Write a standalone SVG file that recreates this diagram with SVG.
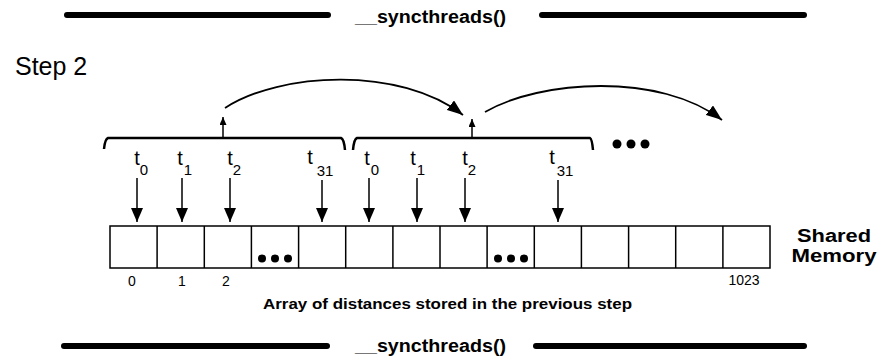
<svg xmlns="http://www.w3.org/2000/svg" width="885" height="361" viewBox="0 0 885 361">
  <style>
    .bar { stroke: #000; stroke-width: 6; stroke-linecap: round; fill: none; }
    .sync { font-family: "Liberation Sans", Arial, sans-serif; font-weight: bold; font-size: 18px; fill: #000; }
    .step { font-family: "Liberation Sans", Arial, sans-serif; font-size: 25px; fill: #000; }
    .bold { font-family: "Liberation Sans", Arial, sans-serif; font-weight: bold; fill: #000; }
    .tid { font-family: "Liberation Sans", Arial, sans-serif; font-size: 20px; fill: #000; text-anchor: middle; }
    .sub { font-family: "Liberation Sans", Arial, sans-serif; font-size: 15px; fill: #000; text-anchor: middle; }
    .idx { font-family: "Liberation Sans", Arial, sans-serif; font-size: 14px; fill: #000; text-anchor: middle; }
    .cell { fill: #fff; stroke: #000; stroke-width: 1.5; }
    .brace { fill: none; stroke: #000; stroke-width: 2.5; stroke-linejoin: round; }
    .down { stroke: #000; stroke-width: 1.5; fill: none; marker-end: url(#headBig); }
    .up { stroke: #000; stroke-width: 1.5; fill: none; marker-end: url(#headSmall); }
    .arc { stroke: #000; stroke-width: 1.8; fill: none; marker-end: url(#headArc); }
    .dot { fill: #000; }
  </style>
  <defs>
    <marker id="headBig" viewBox="0 0 14 12" refX="14" refY="6" markerWidth="14" markerHeight="12" markerUnits="userSpaceOnUse" orient="auto">
      <path d="M0,0 L14,6 L0,12 Z" fill="#000"/>
    </marker>
    <marker id="headSmall" viewBox="0 0 8 7" refX="8" refY="3.5" markerWidth="8" markerHeight="7" markerUnits="userSpaceOnUse" orient="auto">
      <path d="M0,0 L8,3.5 L0,7 Z" fill="#000"/>
    </marker>
    <marker id="headArc" viewBox="0 0 16 12" refX="16" refY="6" markerWidth="16" markerHeight="12" markerUnits="userSpaceOnUse" orient="auto">
      <path d="M0,0 L16,6 L0,12 Z" fill="#000"/>
    </marker>
  </defs>

  <!-- barrier before the step -->
  <g id="sync-top">
    <line class="bar" x1="67" y1="15" x2="328" y2="15"/>
    <line class="bar" x1="542" y1="15" x2="804" y2="15"/>
    <text class="sync" x="355" y="23" textLength="151" lengthAdjust="spacingAndGlyphs">__syncthreads()</text>
  </g>

  <g id="step-label">
    <text class="step" x="15" y="75">Step 2</text>
  </g>

  <!-- warp groups -->
  <g id="warp-0">
    <path class="brace" d="M104,149 Q105,139 108,138 L341,138 Q344,139 345,150"/>
  </g>
  <g id="warp-1">
    <path class="brace" d="M353,150 Q354,139 357,138 L590,138 Q592,139 593,150"/>
  </g>
  <g id="more-warps">
    <circle class="dot" cx="617" cy="144" r="4.5"/>
    <circle class="dot" cx="631" cy="144" r="4.5"/>
    <circle class="dot" cx="645" cy="144" r="4.5"/>
  </g>

  <!-- thread labels -->
  <g id="threads-0">
    <text class="tid" x="137" y="165">t</text><text class="sub" x="144" y="175">0</text>
    <text class="tid" x="180" y="165">t</text><text class="sub" x="188" y="175">1</text>
    <text class="tid" x="230" y="165">t</text><text class="sub" x="237" y="175">2</text>
    <text class="tid" x="310" y="164">t</text><text class="sub" x="325" y="176">31</text>
  </g>
  <g id="threads-1">
    <text class="tid" x="367" y="165">t</text><text class="sub" x="375" y="175">0</text>
    <text class="tid" x="413" y="165">t</text><text class="sub" x="421" y="175">1</text>
    <text class="tid" x="465" y="165">t</text><text class="sub" x="472" y="175">2</text>
    <text class="tid" x="552" y="164">t</text><text class="sub" x="565" y="176">31</text>
  </g>

  <!-- shared memory array -->
  <g id="shared-memory">
    <rect class="cell" x="110" y="226" width="660" height="42"/>
    <g stroke="#000" stroke-width="1.5">
      <line x1="157.1" y1="226" x2="157.1" y2="268"/>
      <line x1="204.3" y1="226" x2="204.3" y2="268"/>
      <line x1="251.4" y1="226" x2="251.4" y2="268"/>
      <line x1="298.6" y1="226" x2="298.6" y2="268"/>
      <line x1="345.7" y1="226" x2="345.7" y2="268"/>
      <line x1="392.9" y1="226" x2="392.9" y2="268"/>
      <line x1="440" y1="226" x2="440" y2="268"/>
      <line x1="487.1" y1="226" x2="487.1" y2="268"/>
      <line x1="534.3" y1="226" x2="534.3" y2="268"/>
      <line x1="581.4" y1="226" x2="581.4" y2="268"/>
      <line x1="628.6" y1="226" x2="628.6" y2="268"/>
      <line x1="675.7" y1="226" x2="675.7" y2="268"/>
      <line x1="722.9" y1="226" x2="722.9" y2="268"/>
    </g>
    <circle class="dot" cx="262" cy="258.5" r="4"/>
    <circle class="dot" cx="275" cy="258.5" r="4"/>
    <circle class="dot" cx="288" cy="258.5" r="4"/>
    <circle class="dot" cx="498" cy="258.5" r="4"/>
    <circle class="dot" cx="511" cy="258.5" r="4"/>
    <circle class="dot" cx="524" cy="258.5" r="4"/>
    <text class="idx" x="132" y="286">0</text>
    <text class="idx" x="182" y="286">1</text>
    <text class="idx" x="226" y="286">2</text>
    <text class="idx" x="744" y="285">1023</text>
    <text class="bold" font-size="18" x="834" y="242" text-anchor="middle" textLength="74" lengthAdjust="spacingAndGlyphs">Shared</text>
    <text class="bold" font-size="18" x="834" y="262" text-anchor="middle" textLength="85" lengthAdjust="spacingAndGlyphs">Memory</text>
    <text class="bold" font-size="15" x="263" y="309" textLength="369" lengthAdjust="spacingAndGlyphs">Array of distances stored in the previous step</text>
  </g>

  <!-- barrier after the step -->
  <g id="sync-bottom">
    <line class="bar" x1="64" y1="346" x2="327" y2="346"/>
    <line class="bar" x1="536" y1="346" x2="804" y2="346"/>
    <text class="sync" x="355" y="352" textLength="151" lengthAdjust="spacingAndGlyphs">__syncthreads()</text>
  </g>

  <!-- connectors -->
  <g id="connectors">
    <line class="down" x1="137" y1="178" x2="137" y2="222"/>
    <line class="down" x1="182" y1="178" x2="182" y2="222"/>
    <line class="down" x1="230" y1="178" x2="230" y2="222"/>
    <line class="down" x1="322" y1="180" x2="322" y2="222"/>
    <line class="down" x1="369" y1="178" x2="369" y2="222"/>
    <line class="down" x1="417" y1="178" x2="417" y2="222"/>
    <line class="down" x1="465" y1="178" x2="465" y2="222"/>
    <line class="down" x1="558" y1="180" x2="558" y2="222"/>
    <line class="up" x1="223" y1="137" x2="223" y2="117"/>
    <line class="up" x1="472" y1="137" x2="472" y2="119"/>
    <path class="arc" d="M225,108 C280,72 400,66 463,115"/>
    <path class="arc" d="M485,112 C540,80 660,72 722,120"/>
  </g>
</svg>
